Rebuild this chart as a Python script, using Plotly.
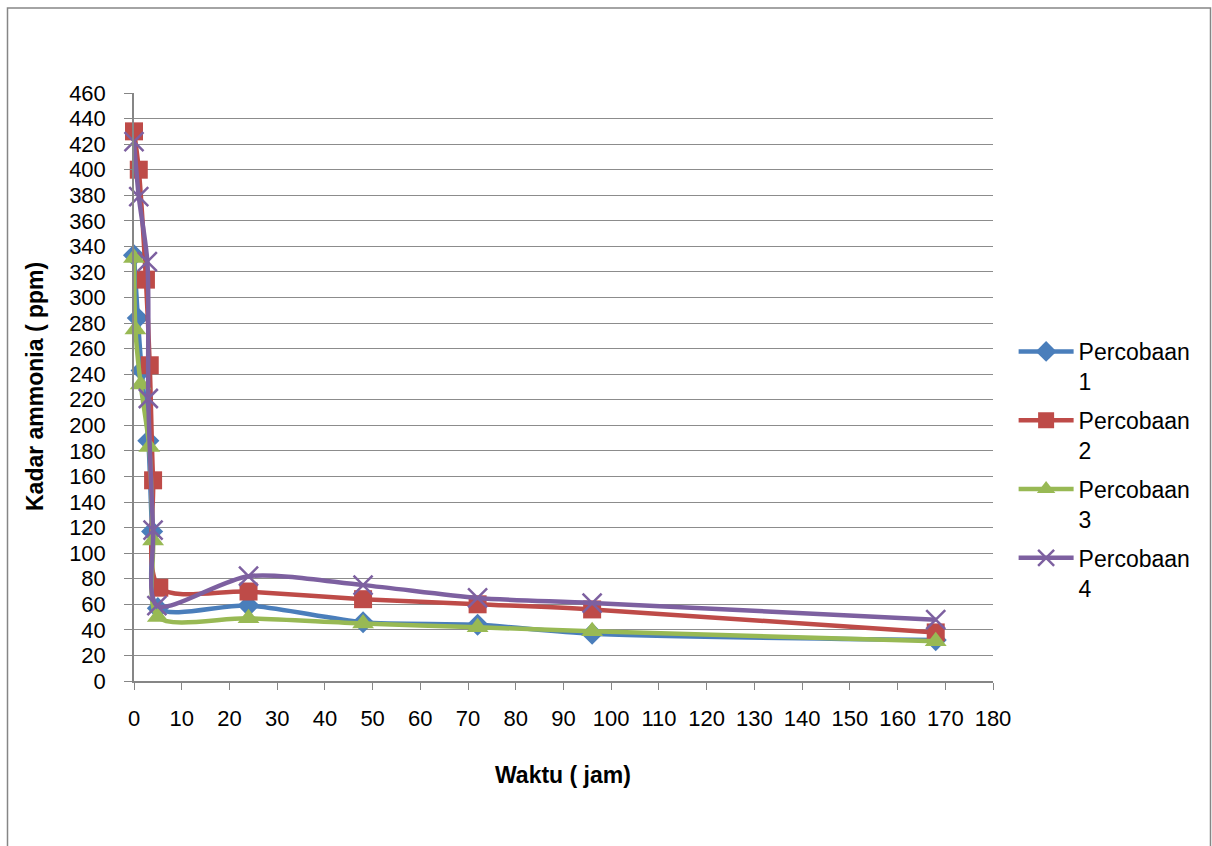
import plotly.graph_objects as go

# Data (time in hours, ammonia in ppm)
names = ["Percobaan<br>1", "Percobaan<br>2", "Percobaan<br>3", "Percobaan<br>4"]

x_p1 = [0, 0.8, 1.6, 3.0, 3.8, 5, 24, 48, 72, 96, 168]
y_p1 = [333, 284, 243, 188, 117, 57, 59, 46, 44, 37, 32]

x_p2 = [0, 1, 2.5, 3.3, 4, 5.3, 24, 48, 72, 96, 168]
y_p2 = [430, 400, 314, 247, 157, 73, 70, 64, 60, 56, 38]

x_p3 = [0, 0.3, 1.4, 3.2, 4, 5, 24, 48, 72, 96, 168]
y_p3 = [331, 275, 232, 183, 110, 50, 49, 45, 42, 39, 31]

x_p4 = [0, 1, 2.8, 3, 4, 4.8, 24, 48, 72, 96, 168]
y_p4 = [422, 379, 328, 221, 118, 59, 82, 75, 65, 61, 48]

colors = ["#4A7EBB", "#BE4B48", "#98B954", "#7D60A0"]
symbols = ["diamond", "square", "triangle-up", "x-thin"]
msizes = [17, 18, 19, 19]

xs = [x_p1, x_p2, x_p3, x_p4]
ys = [y_p1, y_p2, y_p3, y_p4]

fig = go.Figure()
for i in range(4):
    mk = dict(symbol=symbols[i], size=msizes[i], color=colors[i])
    if symbols[i] == "x-thin":
        mk["line"] = dict(color=colors[i], width=2.5)
    fig.add_trace(go.Scatter(
        x=xs[i], y=ys[i], name=names[i], mode="lines+markers",
        legendgroup="g%d" % i, cliponaxis=False,
        line=dict(color=colors[i], width=4.5, shape="spline", smoothing=0.8),
        marker=mk,
    ))

font_fam = "Liberation Sans, Arial, sans-serif"

fig.update_layout(
    width=1212, height=846,
    margin=dict(l=134, r=219, t=93, b=165),
    paper_bgcolor="white", plot_bgcolor="white",
    font=dict(family=font_fam, size=22, color="black"),
    showlegend=True,
    legend=dict(x=1.024, y=0.597, xanchor="left", yanchor="top",
                font=dict(size=23), itemwidth=55, valign="top",
                tracegroupgap=6,
                bgcolor="rgba(0,0,0,0)"),
    hovermode=False,
    xaxis=dict(range=[0, 180], dtick=10, tick0=0, showgrid=False,
               showline=True, linecolor="#868686", linewidth=1.5,
               ticks="outside", ticklen=7, tickcolor="#868686",
               ticklabelstandoff=10, zeroline=False,
               tickfont=dict(size=22)),
    yaxis=dict(range=[0, 460], dtick=20, tick0=0, showgrid=True,
               gridcolor="#8c8c8c", gridwidth=1.2,
               showline=True, linecolor="#868686", linewidth=1.5,
               ticks="outside", ticklen=8, tickcolor="#868686",
               ticklabelstandoff=14, zeroline=False,
               tickfont=dict(size=22)),
    annotations=[
        dict(text="<b>Waktu ( jam)</b>", xref="paper", yref="paper",
             x=(563 - 134) / 859, y=(681 - 775) / 588,
             xanchor="center", yanchor="middle", showarrow=False,
             font=dict(size=23)),
        dict(text="<b>Kadar ammonia ( ppm)</b>", xref="paper", yref="paper",
             x=(35 - 134) / 859, y=(681 - 387) / 588, textangle=-90,
             xanchor="center", yanchor="middle", showarrow=False,
             font=dict(size=23)),
    ],
    shapes=[
        dict(type="rect", xref="paper", yref="paper",
             x0=(7.5 - 134) / 859, x1=(1210.5 - 134) / 859,
             y0=(681 - 860) / 588, y1=(681 - 8) / 588,
             line=dict(color="#868686", width=1.5), fillcolor="rgba(0,0,0,0)",
             layer="below"),
    ],
)

fig.write_html("out.html", config={"displayModeBar": False})
